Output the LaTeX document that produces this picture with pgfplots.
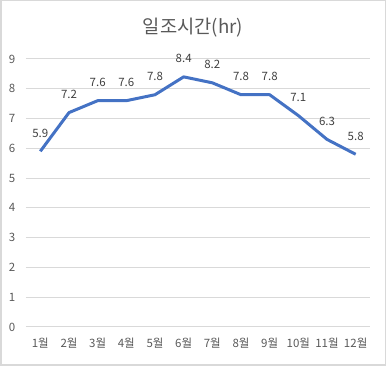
\documentclass[border=0pt]{standalone}
\usepackage{fontspec}
\setmainfont{Noto Sans CJK KR}
\usepackage{pgfplots}
\pgfplotsset{compat=1.18}
\definecolor{txt}{HTML}{595959}
\definecolor{lbl}{HTML}{404040}
\definecolor{gridc}{HTML}{D9D9D9}
\definecolor{linec}{HTML}{4472C4}
\begin{document}
\begin{tikzpicture}
\useasboundingbox (0,0) rectangle (386pt,366pt);
\draw[gridc, line width=1.5pt] (0.75pt,0.75pt) rectangle (385.25pt,365.25pt);
\node[txt, font=\fontsize{18.7}{22}\selectfont] at (193pt,338pt) {일조시간(hr)};
\begin{axis}[
  at={(26pt,39pt)}, anchor=south west,
  scale only axis, width=344pt, height=268pt,
  xmin=0.5, xmax=12.5, ymin=0, ymax=9,
  axis line style={draw=none},
  tick style={draw=none},
  major tick length=0pt,
  xmajorgrids=false,
  ymajorgrids=true,
  y grid style={gridc, line width=1pt},
  ytick={0,...,9},
  xtick={1,...,12},
  xticklabels={1월,2월,3월,4월,5월,6월,7월,8월,9월,10월,11월,12월},
  /pgf/number format/assume math mode=true,
  tick label style={txt, font=\fontsize{11.5}{14}\selectfont, inner sep=0pt},
  yticklabel style={anchor=east, xshift=-10.5pt},
  xticklabel style={anchor=north, yshift=-11pt},
  clip=false,
]
\addplot[linec, line width=3pt, line join=round, mark=none,
  nodes near coords, point meta=explicit symbolic,
  every node near coord/.style={lbl, font=\fontsize{11.5}{14}\selectfont, anchor=center, yshift=18pt, inner sep=0pt}]
  table[meta=l] {
x y l
1 5.9 5.9
2 7.2 7.2
3 7.6 7.6
4 7.6 7.6
5 7.8 7.8
6 8.4 8.4
7 8.2 8.2
8 7.8 7.8
9 7.8 7.8
10 7.1 7.1
11 6.3 6.3
12 5.8 5.8
};
\end{axis}
\end{tikzpicture}
\end{document}
